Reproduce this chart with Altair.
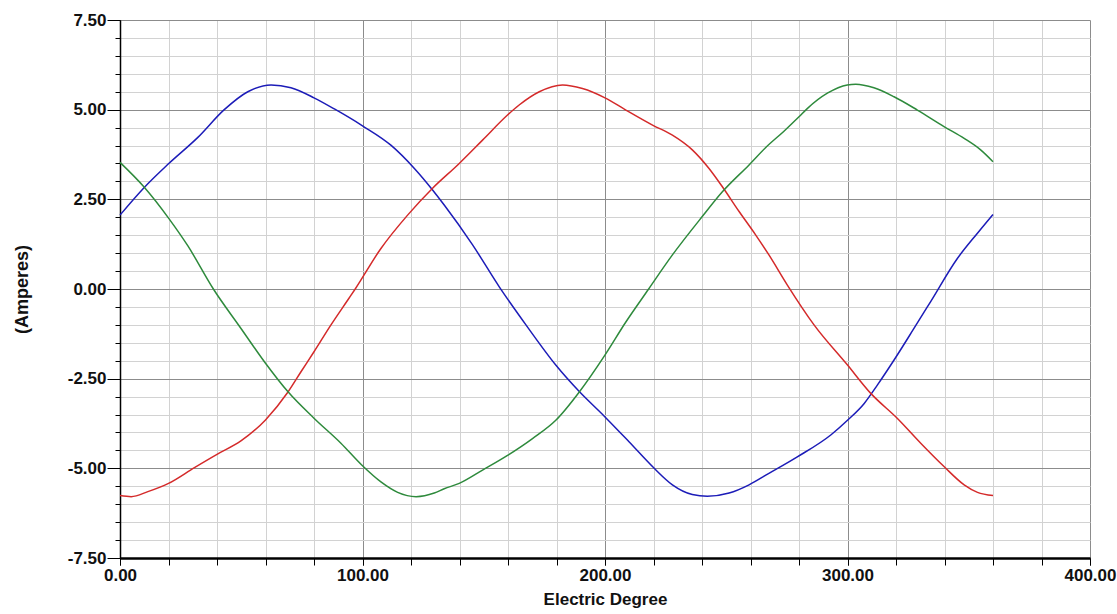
import altair as alt
import pandas as pd

# Three phase currents (Amperes) against electric degree
deg_a = [0, 10, 20, 32, 43, 52.7, 62.3, 70.5, 80, 88.4, 100, 111.7, 121.4, 128.9,
         133.7, 145.4, 156.4, 167.4, 179.7, 189.4, 199.9, 209.9, 220.3, 227.8, 236,
         242.2, 251.2, 259.4, 267.6, 279.3, 293.1, 300, 306.9, 312.3, 319.2, 327.4,
         334.3, 345.3, 353.5, 360]
amp_a = [2.06, 2.83, 3.49, 4.22, 5.0, 5.5, 5.69, 5.61, 5.33, 5.02, 4.55, 4.01, 3.36,
         2.76, 2.34, 1.23, 0.06, -1.0, -2.12, -2.86, -3.56, -4.26, -5.0, -5.46, -5.73,
         -5.78, -5.69, -5.46, -5.14, -4.68, -4.07, -3.66, -3.19, -2.68, -1.98, -1.10,
         -0.35, 0.85, 1.55, 2.08]

deg_b = [0, 4.6, 11.5, 20, 30.7, 40, 50, 60, 69.2, 74.7, 80, 87, 94, 97, 107.6,
         118.6, 128.9, 139.9, 149.5, 159.8, 164.6, 172.9, 182.5, 190.7, 200, 208.6,
         219.6, 227.8, 236, 242.9, 248.4, 255.3, 262.1, 267.6, 275.2, 286.2, 300,
         309.6, 320.6, 330.2, 339.8, 348.1, 353.6, 360]
amp_b = [-5.76, -5.79, -5.65, -5.42, -4.98, -4.61, -4.23, -3.65, -2.88, -2.30, -1.75,
         -1.00, -0.30, 0.0, 1.13, 2.06, 2.81, 3.50, 4.15, 4.85, 5.13, 5.5, 5.69, 5.59,
         5.33, 4.99, 4.57, 4.29, 3.88, 3.36, 2.85, 2.16, 1.51, 0.95, 0.11, -1.0, -2.12,
         -2.91, -3.61, -4.3, -4.95, -5.46, -5.67, -5.76]

deg_c = [0, 10.1, 20.1, 28, 38.5, 49.9, 60, 69.2, 80.1, 91.1, 100, 107.6, 114.5,
         122.1, 129.6, 133.7, 139.9, 149.5, 159.8, 170.1, 179.7, 189.4, 199.9, 208.6,
         218, 227.8, 240.1, 248.4, 259.4, 266.5, 273.8, 280, 283.4, 291.7, 299.9, 303.4,
         310.9, 319.2, 328.8, 339.8, 348.1, 354.9, 360]
amp_c = [3.53, 2.83, 1.97, 1.2, 0.0, -1.1, -2.07, -2.86, -3.61, -4.3, -4.93,
         -5.38, -5.67, -5.79, -5.69, -5.57, -5.42, -5.05, -4.64, -4.17, -3.66, -2.87,
         -1.85, -0.92, 0.0, 0.95, 2.02, 2.71, 3.46, 3.96, 4.40, 4.80, 5.03, 5.46, 5.69,
         5.71, 5.61, 5.36, 4.99, 4.53, 4.2, 3.88, 3.55]

phases = ["A", "B", "C"]
colors = ["#1c1cb8", "#d42a2a", "#2e8a3c"]

# Axis tick positions
x_minor = list(range(0, 401, 20))
x_major = list(range(0, 401, 100))
y_minor = [v / 2 for v in range(-15, 16)]
y_major = [-7.5, -5.0, -2.5, 0.0, 2.5, 5.0, 7.5]

df = pd.concat([
    pd.DataFrame({"deg": deg_a, "amp": amp_a, "phase": "A"}),
    pd.DataFrame({"deg": deg_b, "amp": amp_b, "phase": "B"}),
    pd.DataFrame({"deg": deg_c, "amp": amp_c, "phase": "C"}),
], ignore_index=True)

FONT = "Liberation Sans"
# plain hyphen for negative tick labels
LABEL_EXPR = "replace(format(datum.value, '.2f'), '\u2212', '-')"
xs = alt.Scale(domain=[0, 400], nice=False, zero=False)
ys = alt.Scale(domain=[-7.5, 7.5], nice=False, zero=False)

base = alt.Chart(df)

# Fine grid with short ticks
minor = base.mark_line(opacity=0).encode(
    x=alt.X("deg:Q", scale=xs, axis=alt.Axis(
        values=x_minor, grid=True, gridColor="#d2d2d2", gridWidth=1,
        ticks=True, tickSize=7, tickColor="#000000", tickWidth=1,
        labels=False, domain=False, title=None, orient="bottom")),
    y=alt.Y("amp:Q", scale=ys, axis=alt.Axis(
        values=y_minor, grid=True, gridColor="#d2d2d2", gridWidth=1,
        ticks=True, tickSize=5, tickColor="#000000", tickWidth=1,
        labels=False, domain=False, title=None, orient="left")),
    detail="phase:N",
)

# Coarse grid with labels and titles
major = base.mark_line(opacity=0).encode(
    x=alt.X("deg:Q", scale=xs, axis=alt.Axis(
        values=x_major, grid=True, gridColor="#8c8c8c", gridWidth=1,
        ticks=True, tickSize=7, tickColor="#000000", tickWidth=1,
        labels=True, labelExpr=LABEL_EXPR, labelFont=FONT, labelFontSize=17,
        labelFontWeight="bold", labelColor="#111111", labelPadding=2,
        labelFlush=False, labelOverlap=False,
        domain=True, domainColor="#000000", domainWidth=2.5,
        title="Electric Degree", titleFont=FONT, titleFontSize=17,
        titleFontWeight="bold", titleColor="#111111", titlePadding=8,
        orient="bottom")),
    y=alt.Y("amp:Q", scale=ys, axis=alt.Axis(
        values=y_major, grid=True, gridColor="#8c8c8c", gridWidth=1,
        ticks=True, tickSize=13, tickColor="#000000", tickWidth=1,
        labels=True, labelExpr=LABEL_EXPR, labelFont=FONT, labelFontSize=17,
        labelFontWeight="bold", labelColor="#111111", labelPadding=1,
        labelFlush=False, labelOverlap=False,
        domain=True, domainColor="#000000", domainWidth=1.5,
        title="(Amperes)", titleFont=FONT, titleFontSize=18,
        titleFontWeight="bold", titleColor="#111111", titlePadding=36,
        orient="left")),
    detail="phase:N",
)

curves = base.mark_line(strokeWidth=1.5, interpolate="monotone").encode(
    x=alt.X("deg:Q", scale=xs, axis=None),
    y=alt.Y("amp:Q", scale=ys, axis=None),
    color=alt.Color("phase:N", scale=alt.Scale(domain=phases, range=colors), legend=None),
)

chart = alt.layer(minor, major, curves).resolve_scale(
    x="independent", y="independent"
).properties(
    width=970,
    height=538,
    autosize=alt.AutoSizeParams(type="none"),
    padding={"left": 120, "top": 20, "right": 27, "bottom": 56},
    background="#ffffff",
).configure_view(stroke=None)

chart.save("out.html", embed_options={"renderer": "svg", "actions": False})
